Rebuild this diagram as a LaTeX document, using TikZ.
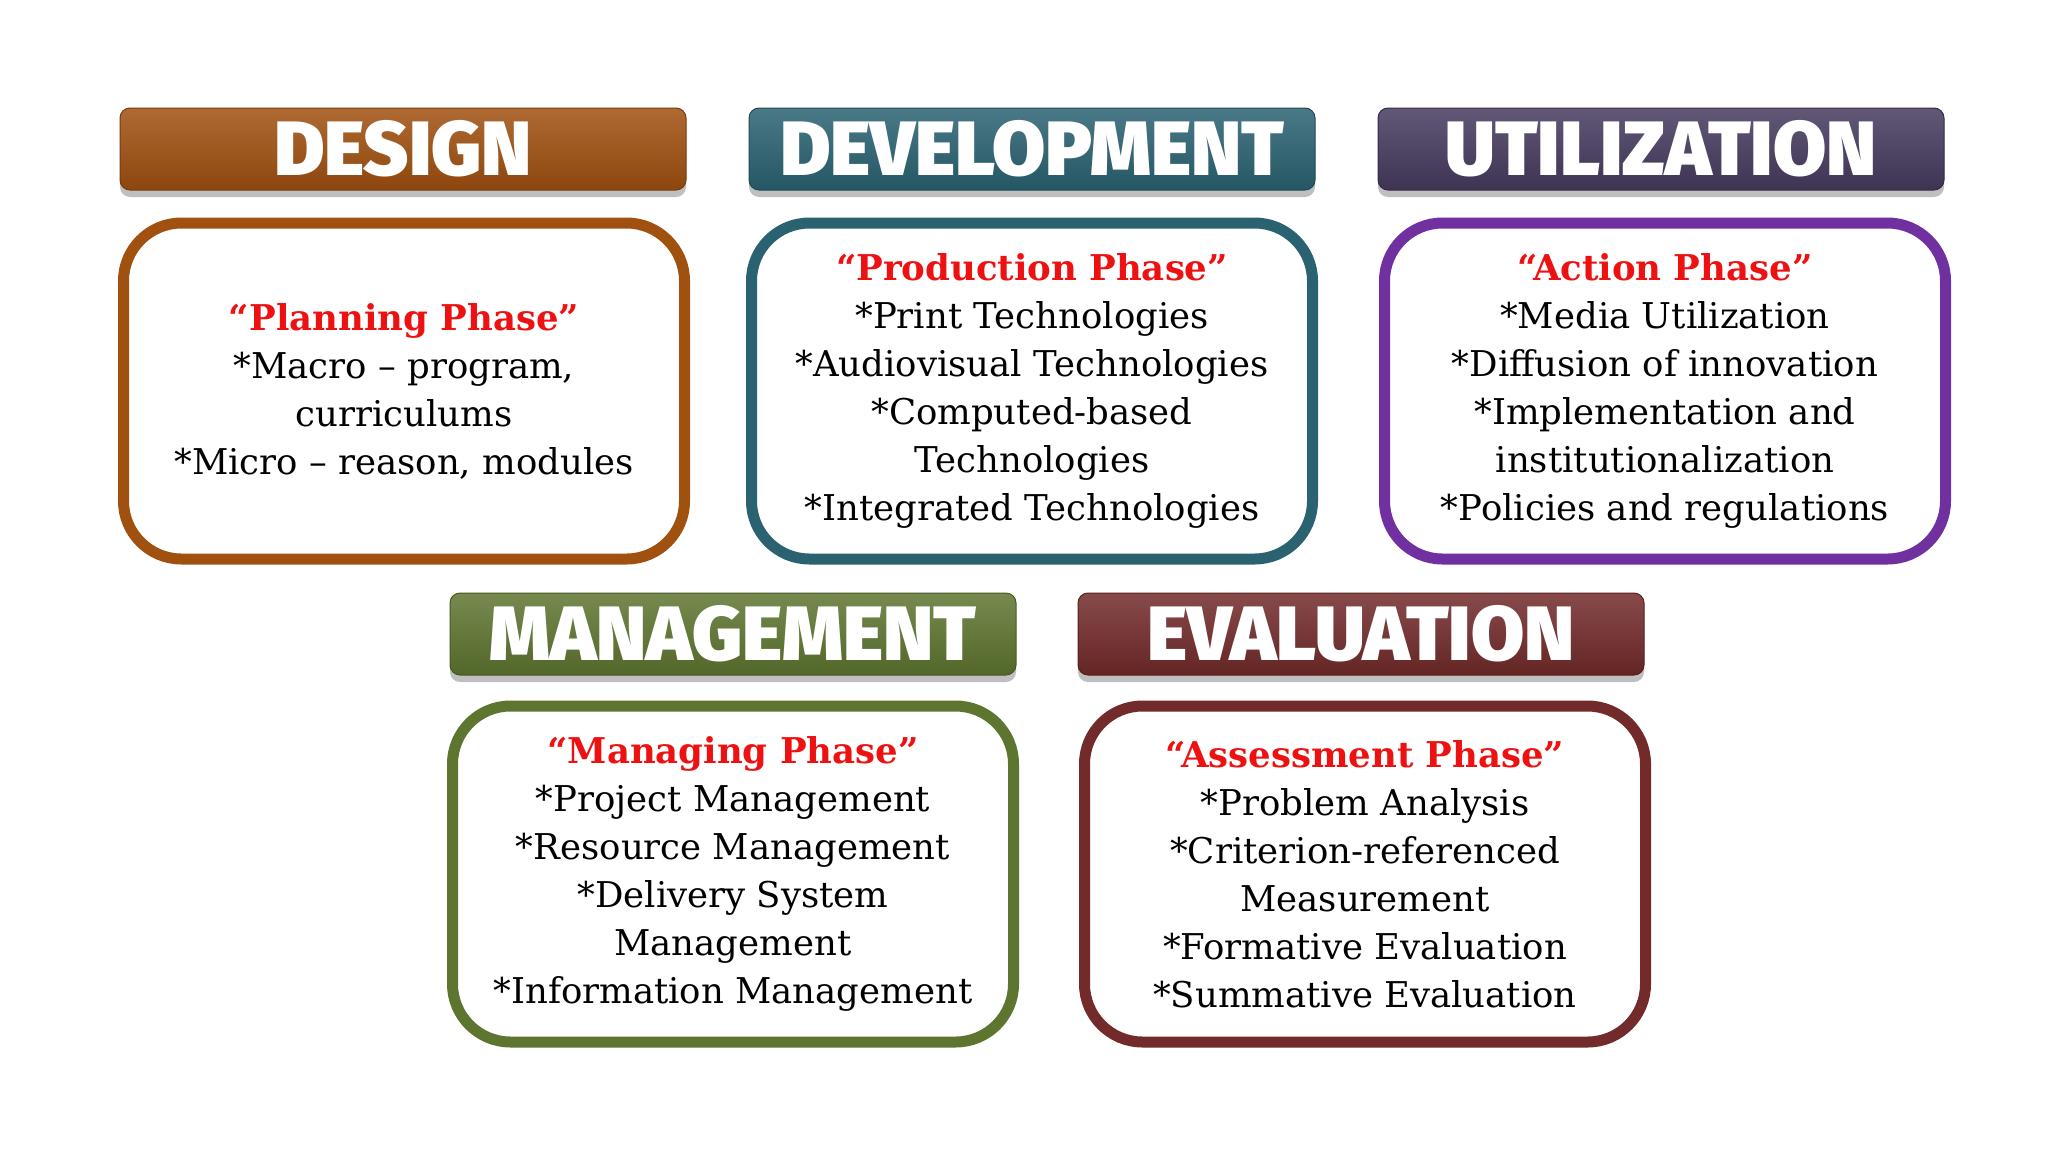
\documentclass[tikz,border=0pt]{standalone}
\usepackage{fontspec}
\setmainfont{DejaVu Serif}
\newfontfamily\hdrfont{Fira Sans Black}
\usetikzlibrary{shadows}
\definecolor{cDes}{HTML}{A0500F}
\definecolor{cDev}{HTML}{2A6272}
\definecolor{cUtl}{HTML}{463A5E}
\definecolor{cUtlB}{HTML}{7030A0}
\definecolor{cMgt}{HTML}{5E7530}
\definecolor{cEva}{HTML}{722A2A}
\definecolor{ttl}{HTML}{EE1111}
\tikzset{
  hdr/.style={rounded corners=10pt, minimum width=566pt, minimum height=82pt, inner sep=0pt,
    draw=#1!75!black, line width=1pt, top color=#1!85!white, middle color=#1, bottom color=#1!88!black,
    drop shadow={shadow xshift=0pt, shadow yshift=-7pt, opacity=0.25, fill=black},
    text=white, font=\hdrfont\fontsize{77}{77}\selectfont},
  bodybox/.style={draw=#1, line width=11pt, rounded corners=58pt, fill=white,
    minimum width=561pt, minimum height=336pt, inner sep=0pt, align=center,
    font=\fontsize{35.5}{48}\selectfont}
}
\newcommand{\phz}[1]{{\color{ttl}\bfseries #1}}
\begin{document}
\begin{tikzpicture}[x=1pt,y=-1pt]
\fill[white] (0,0) rectangle (2048,1152);
\useasboundingbox (0,0) rectangle (2048,1152);

\node[hdr=cDes] (hdes) at (403,149) {DESIGN};
\node[hdr=cDev] (hdev) at (1032,149) {DEVELOPMENT};
\node[hdr=cUtl] (hutl) at (1661,149) {UTILIZATION};
\node[hdr=cMgt] (hmgt) at (733,634) {MANAGEMENT};
\node[hdr=cEva] (heva) at (1361,634) {EVALUATION};

\node[bodybox=cDes] (bdes) at (404,391) {\phz{“Planning Phase”}\\*Macro – program,\\curriculums\\*Micro – reason, modules};
\node[bodybox=cDev] (bdev) at (1032,391) {\phz{“Production Phase”}\\*Print Technologies\\*Audiovisual Technologies\\*Computed-based\\Technologies\\*Integrated Technologies};
\node[bodybox=cUtlB] (butl) at (1665,391) {\phz{“Action Phase”}\\*Media Utilization\\*Diffusion of innovation\\*Implementation and\\institutionalization\\*Policies and regulations};
\node[bodybox=cMgt] (bmgt) at (733,874) {\phz{“Managing Phase”}\\*Project Management\\*Resource Management\\*Delivery System\\Management\\*Information Management};
\node[bodybox=cEva] (beva) at (1365,874) {\phz{“Assessment Phase”}\\*Problem Analysis\\*Criterion-referenced\\Measurement\\*Formative Evaluation\\*Summative Evaluation};
\end{tikzpicture}
\end{document}
